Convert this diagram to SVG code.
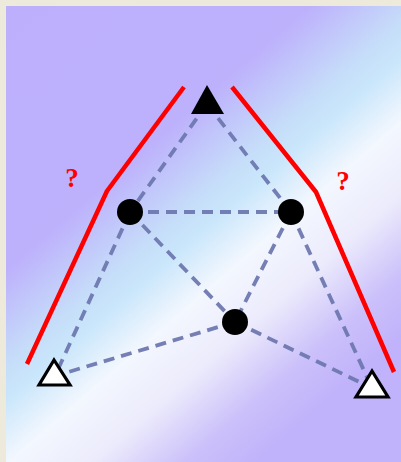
<svg xmlns="http://www.w3.org/2000/svg" width="401" height="462" viewBox="0 0 401 462">
  <defs>
    <linearGradient id="bg" gradientUnits="userSpaceOnUse" x1="0" y1="0" x2="401" y2="462">
      <stop offset="0" stop-color="#bdaffc"/>
      <stop offset="0.34" stop-color="#bdb1fc"/>
      <stop offset="0.46" stop-color="#c6def9"/>
      <stop offset="0.50" stop-color="#c9e6fb"/>
      <stop offset="0.58" stop-color="#f3f7fe"/>
      <stop offset="0.67" stop-color="#ecebfc"/>
      <stop offset="0.77" stop-color="#cbc0fa"/>
      <stop offset="0.85" stop-color="#c0b2fb"/>
      <stop offset="1" stop-color="#c0b2fb"/>
    </linearGradient>
    <style>
      .edge { fill: none; stroke: #6e78b0; stroke-width: 3.8; stroke-dasharray: 11 7; stroke-opacity: 0.95; }
      .bound { fill: none; stroke: #ff0000; stroke-width: 4.5; stroke-linejoin: round; }
      .dot { fill: #000000; }
      .tri-black { fill: #000000; }
      .tri-white { fill: #ffffff; stroke: #000000; stroke-width: 3.2; stroke-linejoin: miter; }
      .q { font-family: "Liberation Serif", serif; font-weight: bold; font-size: 27px; fill: #ff0000; text-anchor: middle; }
    </style>
  </defs>
  <rect x="0" y="0" width="401" height="462" fill="#eeeadb"/>
  <rect x="6" y="6" width="395" height="456" fill="url(#bg)"/>

  <g id="connectors">
    <line class="edge" x1="207" y1="104" x2="130" y2="212"/>
    <line class="edge" x1="207" y1="104" x2="291" y2="212"/>
    <line class="edge" x1="130" y1="212" x2="291" y2="212"/>
    <line class="edge" x1="130" y1="212" x2="235" y2="322"/>
    <line class="edge" x1="291" y1="212" x2="235" y2="322"/>
    <line class="edge" x1="130" y1="212" x2="55" y2="376"/>
    <line class="edge" x1="235" y1="322" x2="55" y2="376"/>
    <line class="edge" x1="235" y1="322" x2="372" y2="388"/>
    <line class="edge" x1="291" y1="212" x2="372" y2="388"/>
  </g>

  <g id="boundary-left">
    <polyline class="bound" points="184,87 107,191 27,364"/>
    <text class="q" x="72" y="187">?</text>
  </g>
  <g id="boundary-right">
    <polyline class="bound" points="232,87 316,192 394,372"/>
    <text class="q" x="343" y="190">?</text>
  </g>

  <g id="node-top"><polygon class="tri-black" points="207,85 191,114 224,114"/></g>
  <g id="node-a"><circle class="dot" cx="130" cy="212" r="13"/></g>
  <g id="node-b"><circle class="dot" cx="291" cy="212" r="13"/></g>
  <g id="node-c"><circle class="dot" cx="235" cy="322" r="13"/></g>
  <g id="node-left"><polygon class="tri-white" points="54,360 39,385 70,385"/></g>
  <g id="node-right"><polygon class="tri-white" points="372,371 356,397 388,397"/></g>
</svg>
